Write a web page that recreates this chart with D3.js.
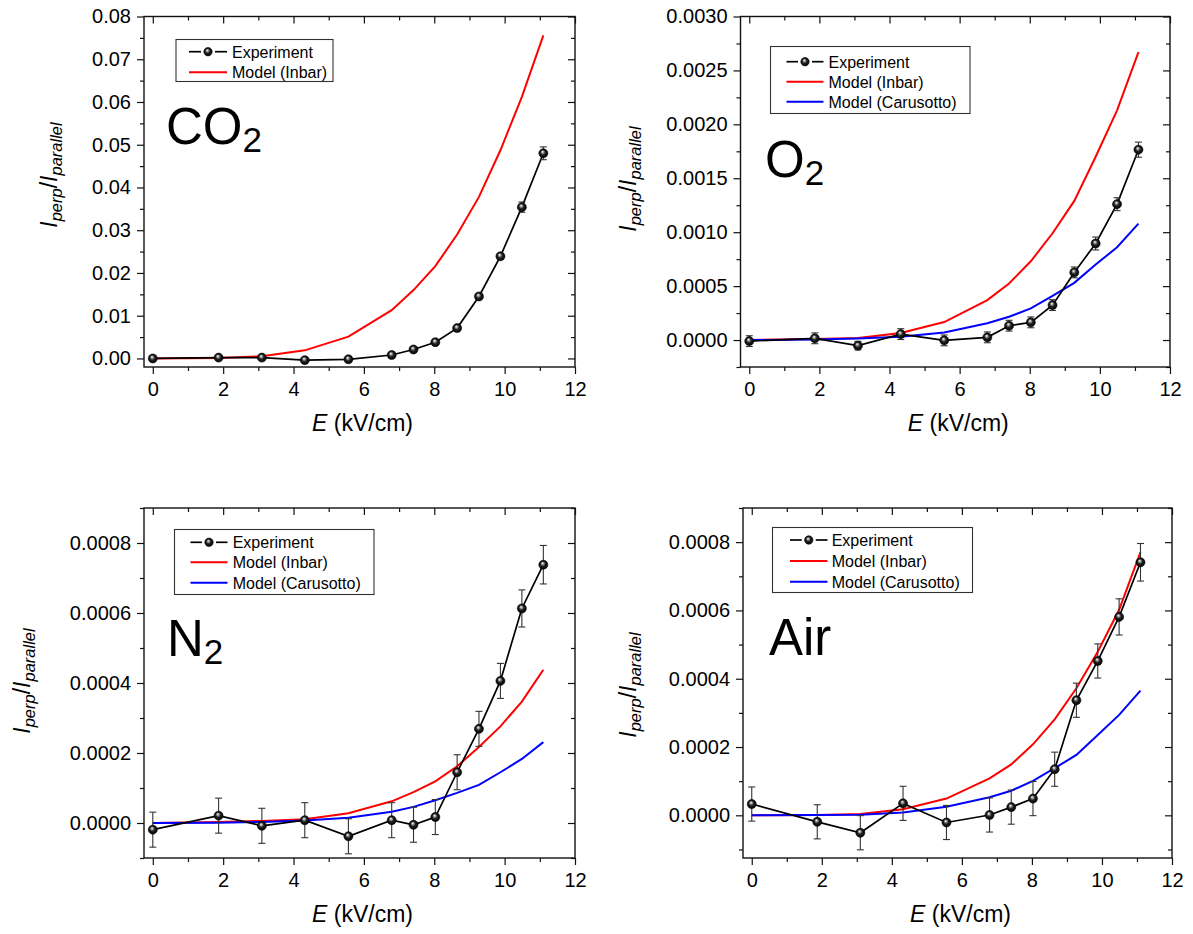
<!DOCTYPE html>
<html>
<head>
<meta charset="utf-8">
<script src="https://cdn.jsdelivr.net/npm/d3@7"></script>
<style>
body { margin: 0; background: #fff; }
svg { display: block; font-family: "Liberation Sans", Arial, sans-serif; }
</style>
</head>
<body>
<script>
var W = 1193, H = 934;

// field strength (kV/cm), shared by every panel
var E = [0, 1.87, 3.1, 4.32, 5.56, 6.79, 7.41, 8.03, 8.65, 9.27, 9.88, 10.49, 11.1];

var co2Exp   = [0.0000, 0.0002, 0.0002, -0.0004, -0.0002, 0.0008, 0.0021, 0.0038, 0.0071, 0.0145, 0.0239, 0.0354, 0.0480];
var co2Err   = [0.0003, 0.0003, 0.0003, 0.0003, 0.0003, 0.0003, 0.0003, 0.0003, 0.0004, 0.0005, 0.0006, 0.0012, 0.0015];
var co2Inbar = [0.0000, 0.0001, 0.0005, 0.0019, 0.0051, 0.0113, 0.0160, 0.0216, 0.0290, 0.0378, 0.0487, 0.0612, 0.0756];

var o2Exp       = [-0.00001, 0.000016, -0.000052, 0.000055, -0.000003, 0.000025, 0.000133, 0.000164, 0.000324, 0.000627, 0.000895, 0.00126, 0.001765];
var o2Err       = [0.00005, 0.00005, 0.00004, 0.00005, 0.00005, 0.00005, 0.00005, 0.00005, 0.00005, 0.00005, 0.00006, 0.00006, 0.00007];
var o2Inbar     = [0, 0.00001, 0.00002, 0.000065, 0.000167, 0.00037, 0.000525, 0.00073, 0.00099, 0.00129, 0.0017, 0.00213, 0.00267];
var o2Carusotto = [0, 0.000005, 0.000015, 0.00003, 0.00007, 0.000155, 0.000216, 0.000293, 0.00041, 0.00053, 0.0007, 0.00086, 0.00108];

var n2Exp       = [-0.000019, 0.000021, -0.000008, 0.000008, -0.000038, 0.000008, -0.000005, 0.000017, 0.000145, 0.000269, 0.000406, 0.000613, 0.000738];
var n2Err       = [0.00005, 0.00005, 0.00005, 0.00005, 0.00005, 0.00005, 0.00005, 0.00005, 0.00005, 0.00005, 0.00005, 0.000053, 0.000055];
var n2Inbar     = [0, 0.000003, 0.000006, 0.000011, 0.000028, 0.000062, 0.000088, 0.000119, 0.000162, 0.000217, 0.000276, 0.000347, 0.000438];
var n2Carusotto = [0, 0.000001, 0.000003, 0.000007, 0.000015, 0.000032, 0.000046, 0.000065, 0.000086, 0.000109, 0.000145, 0.000183, 0.000231];

var airExp       = [0.000033, -0.000019, -0.000051, 0.000035, -0.000021, 0.000001, 0.000024, 0.000049, 0.000135, 0.000337, 0.000452, 0.000581, 0.000741];
var airErr       = [0.00005, 0.00005, 0.00005, 0.00005, 0.00005, 0.00005, 0.00005, 0.00005, 0.00005, 0.00005, 0.00005, 0.000053, 0.000055];
var airInbar     = [0, 0.000001, 0.000004, 0.000018, 0.000049, 0.000108, 0.000149, 0.000208, 0.000281, 0.000372, 0.000479, 0.000602, 0.000771];
var airCarusotto = [0, 0.000001, 0.000002, 0.000008, 0.000025, 0.000053, 0.000072, 0.000101, 0.000138, 0.000177, 0.000235, 0.000294, 0.000365];

// tick values
var xMajor = [0, 2, 4, 6, 8, 10, 12];
var xMinor = [1, 3, 5, 7, 9, 11];
var co2Major = [0, 0.01, 0.02, 0.03, 0.04, 0.05, 0.06, 0.07, 0.08];
var co2Minor = [0.005, 0.015, 0.025, 0.035, 0.045, 0.055, 0.065, 0.075];
var o2Major = [0, 0.0005, 0.001, 0.0015, 0.002, 0.0025, 0.003];
var o2Minor = [-0.00025, 0.00025, 0.00075, 0.00125, 0.00175, 0.00225, 0.00275];
var lowMajor = [0, 0.0002, 0.0004, 0.0006, 0.0008];
var lowMinor = [-0.0001, 0.0001, 0.0003, 0.0005, 0.0007, 0.0009];

var legendNames = ["Experiment", "Model (Inbar)", "Model (Carusotto)"];
var RED = "#ff0000", BLUE = "#0000ff";

var svg = d3.select("body").append("svg")
    .attr("width", W)
    .attr("height", H);

// sphere-like marker fill
var grad = svg.append("defs").append("radialGradient")
    .attr("id", "sphere")
    .attr("cx", "50%").attr("cy", "50%").attr("r", "55%")
    .attr("fx", "40%").attr("fy", "32%");
grad.append("stop").attr("offset", "0%").attr("stop-color", "#ffffff");
grad.append("stop").attr("offset", "22%").attr("stop-color", "#a0a0a0");
grad.append("stop").attr("offset", "50%").attr("stop-color", "#202020");
grad.append("stop").attr("offset", "100%").attr("stop-color", "#000000");

var panels = [
    { main: "CO", sub: "2", left: 144, right: 575, top: 16.5, bottom: 367,
      ydom: [-0.002, 0.08], yMajor: co2Major, yMinor: co2Minor, fmt: ".2f",
      exp: co2Exp, err: co2Err, models: [co2Inbar],
      legend: { x: 176, y: 39.5, w: 157, h: 42, rows: [51.7, 72.3], lx: [189, 227], tx: 232 },
      label: { x: 166, y: 144 }, ytitle: { x: 57, y: 175 } },
    { main: "O", sub: "2", left: 740.5, right: 1170, top: 16.5, bottom: 367,
      ydom: [-0.00025, 0.003], yMajor: o2Major, yMinor: o2Minor, fmt: ".4f",
      exp: o2Exp, err: o2Err, models: [o2Inbar, o2Carusotto],
      legend: { x: 770.5, y: 46.5, w: 199.5, h: 67, rows: [61.7, 81.7, 101.7], lx: [786.5, 823.5], tx: 828.5 },
      label: { x: 765, y: 176.5 }, ytitle: { x: 636, y: 179 } },
    { main: "N", sub: "2", left: 144, right: 575, top: 508, bottom: 858,
      ydom: [-0.0001, 0.0009], yMajor: lowMajor, yMinor: lowMinor, fmt: ".4f",
      exp: n2Exp, err: n2Err, models: [n2Inbar, n2Carusotto],
      legend: { x: 174.5, y: 529.5, w: 199.5, h: 65, rows: [542.3, 562.3, 582.7], lx: [190.5, 227.5], tx: 232.7 },
      label: { x: 167, y: 656 }, ytitle: { x: 29.5, y: 681 } },
    { main: "Air", sub: "", left: 743, right: 1172, top: 508, bottom: 858,
      ydom: [-0.000125, 0.0009], yMajor: lowMajor, yMinor: lowMinor, fmt: ".4f",
      exp: airExp, err: airErr, models: [airInbar, airCarusotto],
      legend: { x: 772.5, y: 527.5, w: 200, h: 65, rows: [540, 561, 581.7], lx: [790, 827.5], tx: 831.7 },
      label: { x: 769, y: 655 }, ytitle: { x: 636, y: 685 } }
];

function styleAxis(sel, fontSize) {
    sel.select(".domain").remove();
    sel.selectAll(".tick line").attr("stroke", "#111").attr("stroke-width", 1.2);
    sel.selectAll(".tick text")
        .attr("font-family", "Liberation Sans, Arial, sans-serif")
        .attr("font-size", fontSize)
        .attr("fill", "#000");
}

function drawPanel(p) {
    var x = d3.scaleLinear().domain([-0.25, 12]).range([p.left, p.right]);
    var y = d3.scaleLinear().domain(p.ydom).range([p.bottom, p.top]);
    var g = svg.append("g");

    // axes: outward on left/bottom, inward mirror ticks on top/right
    var bot = g.append("g").attr("transform", "translate(0," + p.bottom + ")")
        .call(d3.axisBottom(x).tickValues(xMajor).tickSize(7).tickPadding(8).tickFormat(d3.format("d")));
    styleAxis(bot, 20);
    styleAxis(g.append("g").attr("transform", "translate(0," + p.bottom + ")")
        .call(d3.axisBottom(x).tickValues(xMinor).tickSize(4).tickFormat("")), 0);
    styleAxis(g.append("g").attr("transform", "translate(0," + p.top + ")")
        .call(d3.axisTop(x).tickValues(xMajor).tickSize(-7).tickFormat("")), 0);
    styleAxis(g.append("g").attr("transform", "translate(0," + p.top + ")")
        .call(d3.axisTop(x).tickValues(xMinor).tickSize(-4).tickFormat("")), 0);

    var lft = g.append("g").attr("transform", "translate(" + p.left + ",0)")
        .call(d3.axisLeft(y).tickValues(p.yMajor).tickSize(7).tickPadding(6).tickFormat(d3.format(p.fmt)));
    styleAxis(lft, 20);
    styleAxis(g.append("g").attr("transform", "translate(" + p.left + ",0)")
        .call(d3.axisLeft(y).tickValues(p.yMinor).tickSize(4).tickFormat("")), 0);
    styleAxis(g.append("g").attr("transform", "translate(" + p.right + ",0)")
        .call(d3.axisRight(y).tickValues(p.yMajor).tickSize(-7).tickFormat("")), 0);
    styleAxis(g.append("g").attr("transform", "translate(" + p.right + ",0)")
        .call(d3.axisRight(y).tickValues(p.yMinor).tickSize(-4).tickFormat("")), 0);

    g.append("rect")
        .attr("x", p.left).attr("y", p.top)
        .attr("width", p.right - p.left).attr("height", p.bottom - p.top)
        .attr("fill", "none").attr("stroke", "#111").attr("stroke-width", 1.4);

    // model curves
    var line = d3.line().x((d, i) => x(E[i])).y(d => y(d));
    var colors = [RED, BLUE];
    p.models.forEach(function (m, k) {
        g.append("path").datum(m)
            .attr("d", line)
            .attr("fill", "none")
            .attr("stroke", colors[k])
            .attr("stroke-width", 2);
    });

    // experiment: line, error bars, markers
    g.append("path").datum(p.exp)
        .attr("d", line)
        .attr("fill", "none")
        .attr("stroke", "#000")
        .attr("stroke-width", 1.7);

    var eb = g.append("g").attr("stroke", "#333").attr("stroke-width", 1.1);
    p.exp.forEach(function (v, i) {
        var cx = x(E[i]), y1 = y(v + p.err[i]), y2 = y(v - p.err[i]);
        eb.append("line").attr("x1", cx).attr("x2", cx).attr("y1", y1).attr("y2", y2);
        eb.append("line").attr("x1", cx - 3.5).attr("x2", cx + 3.5).attr("y1", y1).attr("y2", y1);
        eb.append("line").attr("x1", cx - 3.5).attr("x2", cx + 3.5).attr("y1", y2).attr("y2", y2);
    });

    g.selectAll("circle.pt").data(p.exp).join("circle")
        .attr("class", "pt")
        .attr("cx", (d, i) => x(E[i]))
        .attr("cy", d => y(d))
        .attr("r", 4.5)
        .attr("fill", "url(#sphere)")
        .attr("stroke", "#000")
        .attr("stroke-width", 0.6);

    // legend
    var L = p.legend;
    g.append("rect")
        .attr("x", L.x).attr("y", L.y).attr("width", L.w).attr("height", L.h)
        .attr("fill", "#fff").attr("stroke", "#333").attr("stroke-width", 1.1);
    L.rows.forEach(function (ry, k) {
        var mid = (L.lx[0] + L.lx[1]) / 2;
        if (k == 0) {
            g.append("line").attr("x1", L.lx[0]).attr("x2", mid - 7).attr("y1", ry).attr("y2", ry)
                .attr("stroke", "#000").attr("stroke-width", 1.7);
            g.append("line").attr("x1", mid + 7).attr("x2", L.lx[1]).attr("y1", ry).attr("y2", ry)
                .attr("stroke", "#000").attr("stroke-width", 1.7);
            g.append("circle").attr("cx", mid).attr("cy", ry).attr("r", 4.2)
                .attr("fill", "url(#sphere)").attr("stroke", "#000").attr("stroke-width", 0.6);
        } else {
            g.append("line").attr("x1", L.lx[0]).attr("x2", L.lx[1]).attr("y1", ry).attr("y2", ry)
                .attr("stroke", colors[k - 1]).attr("stroke-width", 2);
        }
        g.append("text")
            .attr("x", L.tx).attr("y", ry + 5.8)
            .attr("font-size", 16)
            .text(legendNames[k]);
    });

    // gas label
    var lab = g.append("text").attr("x", p.label.x).attr("y", p.label.y).attr("font-size", 51);
    lab.append("tspan").text(p.main);
    if (p.sub) lab.append("tspan").attr("font-size", 35).attr("dy", 8).text(p.sub);

    // x title
    var xt = g.append("text")
        .attr("x", (p.left + p.right) / 2 + 3)
        .attr("y", p.bottom + 64)
        .attr("text-anchor", "middle")
        .attr("font-size", 23);
    xt.append("tspan").attr("font-style", "italic").text("E");
    xt.append("tspan").text(" (kV/cm)");

    // y title
    var yt = g.append("text")
        .attr("transform", "translate(" + p.ytitle.x + "," + p.ytitle.y + ") rotate(-90)")
        .attr("text-anchor", "middle")
        .attr("font-size", 23);
    yt.append("tspan").attr("font-style", "italic").text("I");
    yt.append("tspan").attr("font-style", "italic").attr("font-size", 16.5).attr("dy", 5).text("perp");
    yt.append("tspan").attr("dy", -5).text("/");
    yt.append("tspan").attr("font-style", "italic").text("I");
    yt.append("tspan").attr("font-style", "italic").attr("font-size", 16.5).attr("dy", 5).text("parallel");
}

panels.forEach(drawPanel);
</script>
</body>
</html>
